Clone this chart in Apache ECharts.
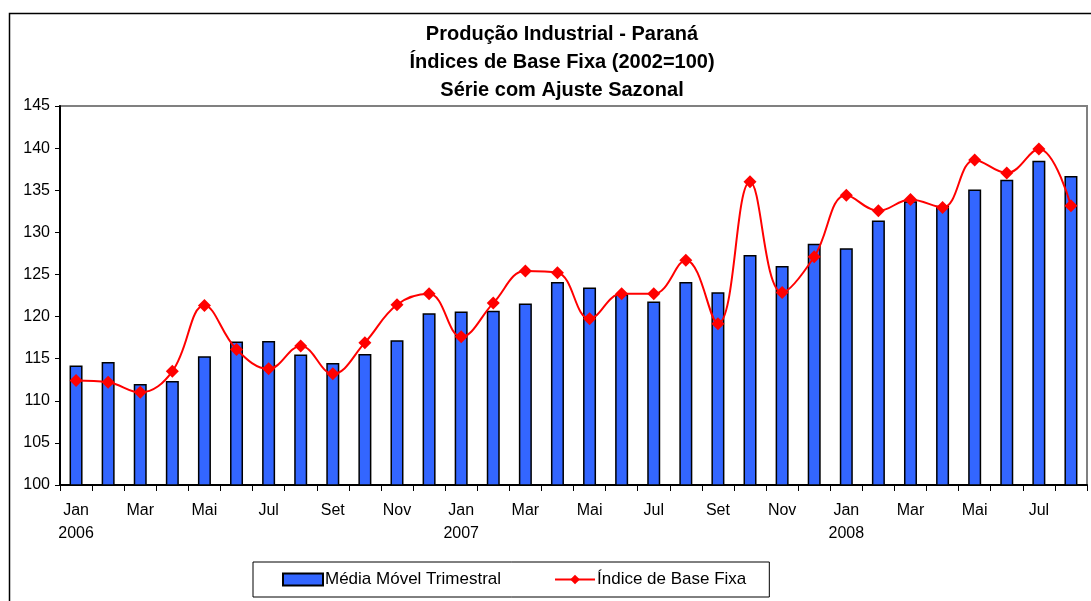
<!DOCTYPE html>
<html>
<head>
<meta charset="utf-8">
<script src="https://cdn.jsdelivr.net/npm/echarts@6/dist/echarts.min.js"></script>
<style>
  html, body { margin: 0; padding: 0; background: #fff; }
  #chart { width: 1091px; height: 601px; }
</style>
</head>
<body>
<div id="chart"></div>
<script>
// meses (só os ímpares aparecem no eixo)
var categories = [
  'Jan\n2006', 'Fev', 'Mar', 'Abr', 'Mai', 'Jun', 'Jul', 'Ago', 'Set', 'Out', 'Nov', 'Dez',
  'Jan\n2007', 'Fev', 'Mar', 'Abr', 'Mai', 'Jun', 'Jul', 'Ago', 'Set', 'Out', 'Nov', 'Dez',
  'Jan\n2008', 'Fev', 'Mar', 'Abr', 'Mai', 'Jun', 'Jul', 'Ago'
]
// Média Móvel Trimestral
var mediaMovel = [
  114.2, 114.6, 112.0, 112.35, 115.3, 117.05, 117.1, 115.5, 114.5, 115.55, 117.2, 120.4,
  120.6, 120.7, 121.55, 124.1, 123.45, 122.65, 121.8, 124.1, 122.9, 127.3, 126.0, 128.65,
  128.1, 131.4, 133.7, 133.15, 135.1, 136.25, 138.5, 136.7
]
// Índice de Base Fixa
var indice = [
  112.4, 112.2, 111.0, 113.5, 121.3, 116.1, 113.8, 116.5, 113.2, 116.9, 121.4, 122.7,
  117.6, 121.6, 125.4, 125.2, 119.75, 122.7, 122.7, 126.7, 119.15, 136.0, 122.85, 127.1,
  134.4, 132.55, 133.9, 132.95, 138.6, 137.05, 139.9, 133.15
]
var yTicks = { min: 100, max: 145, step: 5 }

var font = 'Arial, "Liberation Sans", sans-serif'
var myChart = echarts.init(document.getElementById('chart'))

var option = {
  animation: false,
  textStyle: { fontFamily: font, color: '#000' },
  title: {
    text: 'Produção Industrial - Paraná\nÍndices de Base Fixa (2002=100)\nSérie com Ajuste Sazonal',
    left: 557,
    top: 15,
    textAlign: 'center',
    textStyle: {
      fontFamily: font,
      fontSize: 20,
      fontWeight: 'bold',
      color: '#000',
      lineHeight: 28,
      align: 'center'
    }
  },
  // moldura do gráfico (cortada à direita e embaixo)
  graphic: [
    {
      type: 'polyline',
      shape: { points: [[9.5, 601], [9.5, 13.5], [1091, 13.5]] },
      style: { stroke: '#000', lineWidth: 1.5, fill: null }
    }
  ],
  legend: {
    left: 253,
    top: 562,
    padding: [9, 23, 9, 29],
    borderColor: '#000',
    borderWidth: 1,
    itemWidth: 40,
    itemHeight: 12,
    itemGap: 53,
    textStyle: { fontFamily: font, fontSize: 17, color: '#000', padding: [0, 0, 0, -3] },
    data: [
      { name: 'Média Móvel Trimestral', icon: 'rect' },
      { name: 'Índice de Base Fixa' }
    ]
  },
  grid: {
    left: 60,
    right: 4,
    top: 106,
    bottom: 116,
    show: true,
    borderColor: '#808080',
    borderWidth: 2
  },
  xAxis: {
    type: 'category',
    data: categories,
    boundaryGap: true,
    axisLine: { lineStyle: { color: '#000', width: 2 } },
    axisTick: { show: true, interval: 0, length: 6, lineStyle: { color: '#000', width: 1 } },
    axisLabel: {
      interval: 1,
      fontFamily: font,
      fontSize: 16,
      color: '#000',
      margin: 14,
      lineHeight: 23
    }
  },
  yAxis: {
    type: 'value',
    min: yTicks.min,
    max: yTicks.max,
    interval: yTicks.step,
    axisLine: { show: true, lineStyle: { color: '#000', width: 2 } },
    axisTick: { show: true, length: 5, lineStyle: { color: '#000', width: 1 } },
    splitLine: { show: false },
    axisLabel: { fontFamily: font, fontSize: 16, color: '#000', margin: 10 }
  },
  series: [
    {
      name: 'Média Móvel Trimestral',
      type: 'bar',
      data: mediaMovel,
      barWidth: 13,
      itemStyle: {
        color: '#3366FF',
        borderColor: '#000',
        borderWidth: 1.5
      }
    },
    {
      name: 'Índice de Base Fixa',
      type: 'line',
      data: indice,
      smooth: 0.4,
      symbol: 'diamond',
      symbolSize: 13,
      lineStyle: { color: '#FF0000', width: 2 },
      itemStyle: { color: '#FF0000' }
    }
  ]
}

myChart.setOption(option)
</script>
</body>
</html>
